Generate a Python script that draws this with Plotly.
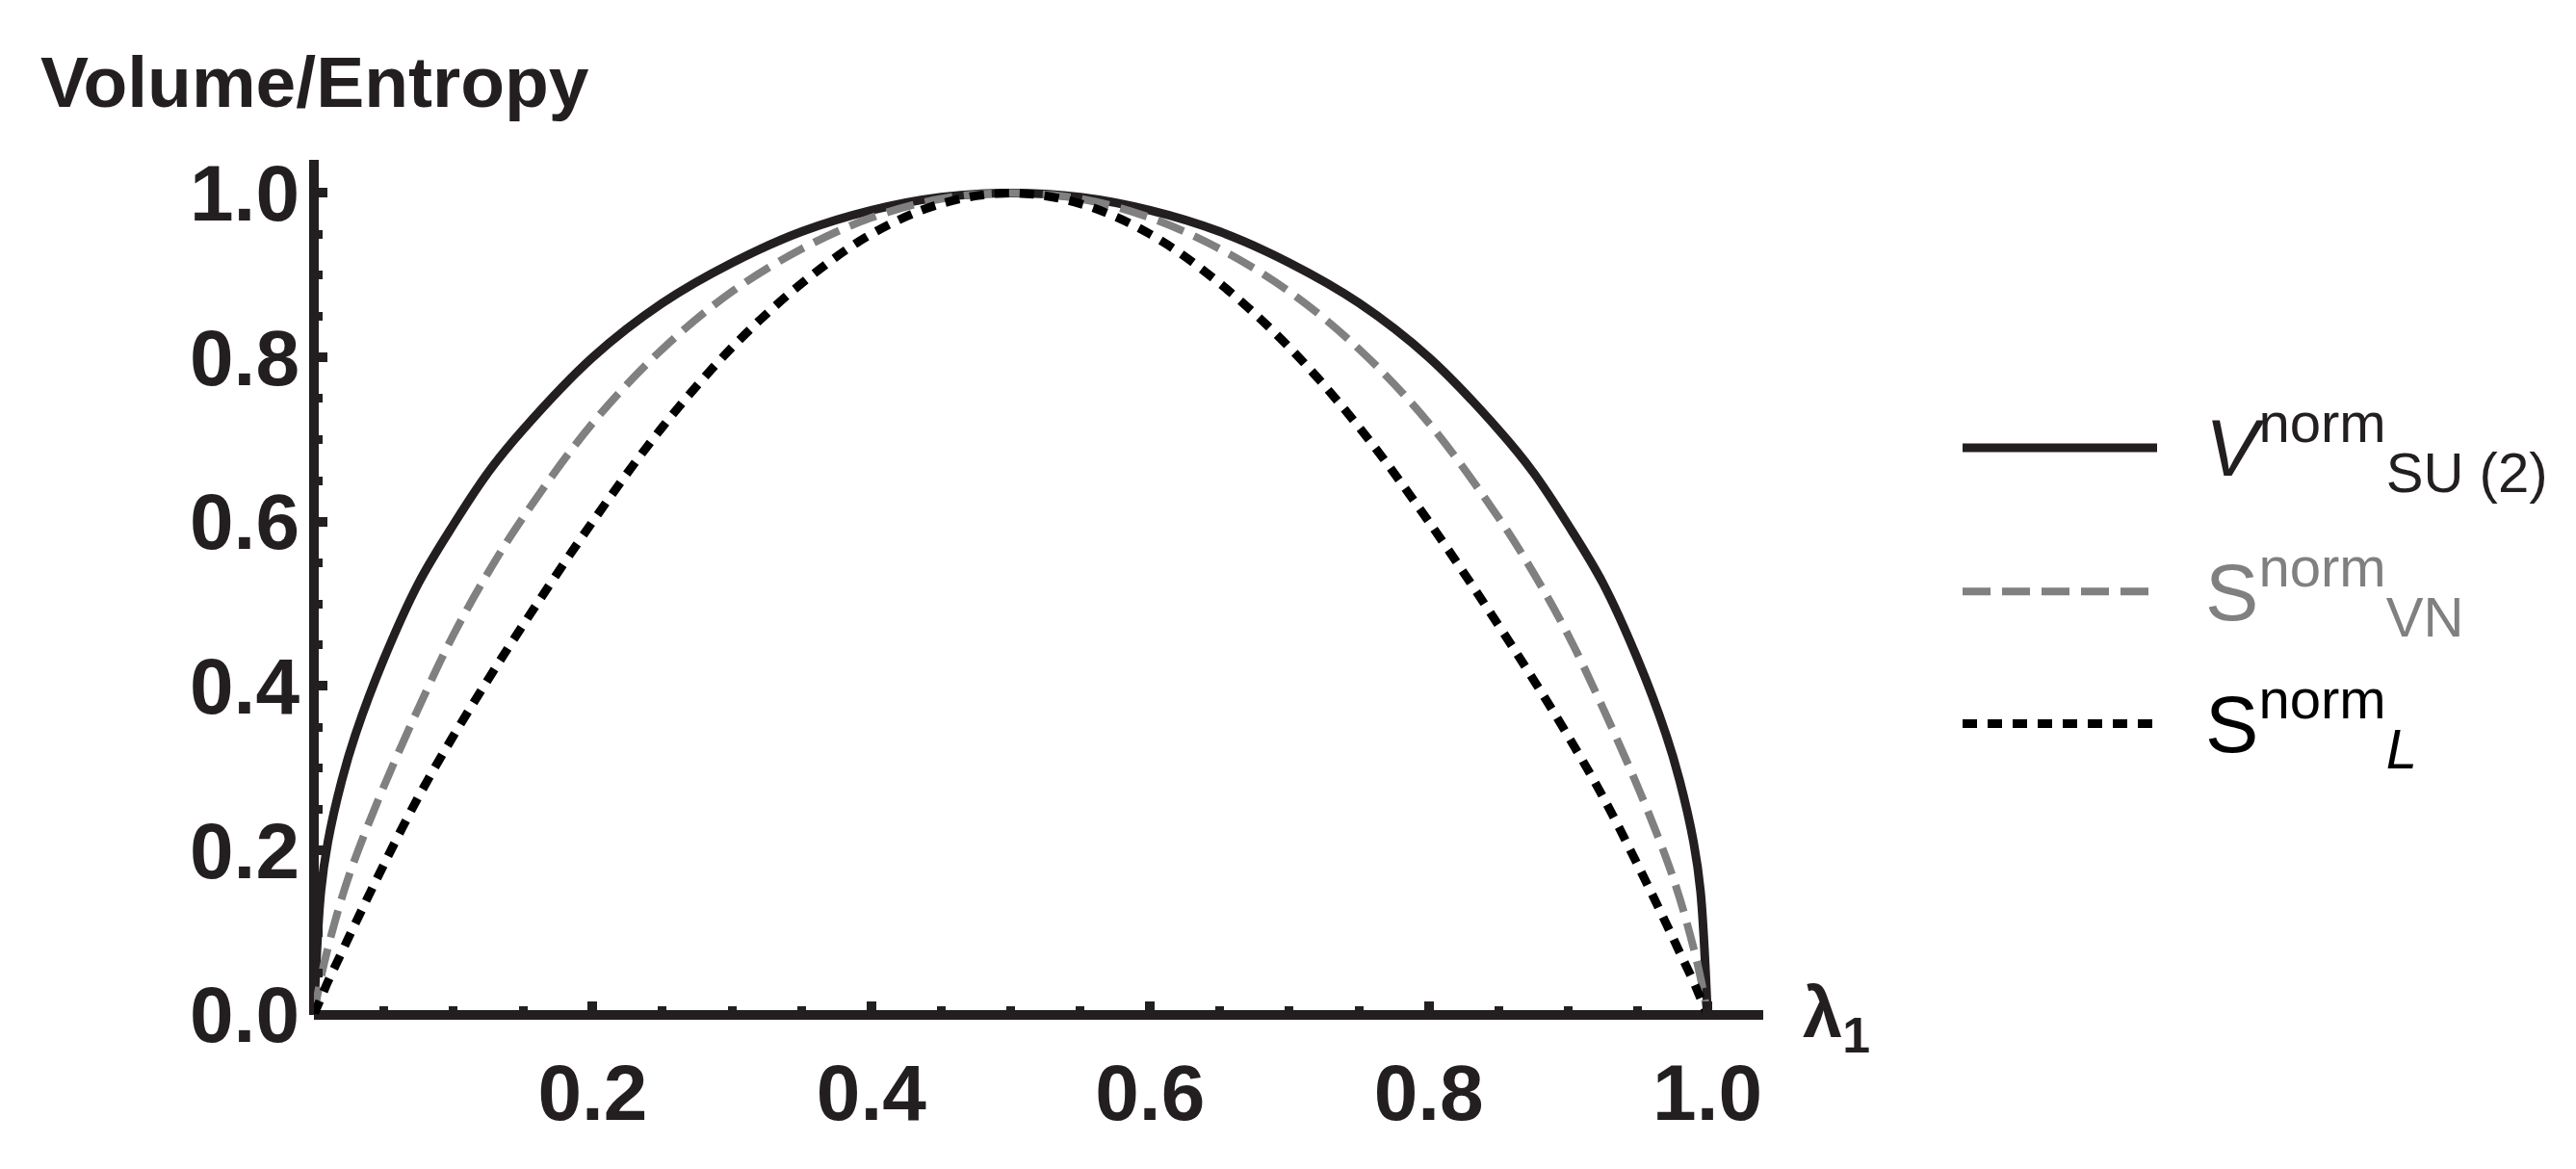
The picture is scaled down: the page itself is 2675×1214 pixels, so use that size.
import plotly.graph_objects as go

# === Datos ===
lam = [0, 0.005, 0.01, 0.02, 0.03, 0.05, 0.075, 0.1, 0.125, 0.15, 0.2, 0.25, 0.3, 0.35, 0.4, 0.45, 0.5,
       0.55, 0.6, 0.65, 0.7, 0.75, 0.8, 0.85, 0.875, 0.9, 0.925, 0.95, 0.97, 0.98, 0.99, 0.995, 1.0]
v_su2 = [0, 0.15, 0.21, 0.285, 0.342, 0.432, 0.525, 0.596, 0.66, 0.712, 0.8, 0.866, 0.915, 0.953, 0.979, 0.995, 1.0,
         0.995, 0.979, 0.953, 0.915, 0.866, 0.8, 0.712, 0.66, 0.596, 0.525, 0.432, 0.342, 0.285, 0.21, 0.15, 0]
s_vn = [0, 0.045, 0.081, 0.142, 0.192, 0.277, 0.373, 0.462, 0.538, 0.605, 0.72, 0.81, 0.88, 0.932, 0.97, 0.993, 1.0,
        0.993, 0.97, 0.932, 0.88, 0.81, 0.72, 0.605, 0.538, 0.462, 0.373, 0.277, 0.192, 0.142, 0.081, 0.045, 0]
s_l = [0, 0.02, 0.04, 0.076, 0.112, 0.182, 0.265, 0.339, 0.408, 0.474, 0.6, 0.715, 0.812, 0.89, 0.95, 0.987, 1.0,
       0.987, 0.95, 0.89, 0.812, 0.715, 0.6, 0.474, 0.408, 0.339, 0.265, 0.182, 0.112, 0.076, 0.04, 0.02, 0]

x_ticks = [0.2, 0.4, 0.6, 0.8, 1.0]
x_ticktext = ["0.2", "0.4", "0.6", "0.8", "1.0"]
y_ticks = [0.0, 0.2, 0.4, 0.6, 0.8, 1.0]
y_ticktext = ["0.0", "0.2", "0.4", "0.6", "0.8", "1.0"]

leyenda_textos = ["<i>V</i><sup>norm</sup><sub>SU (2)</sub>",
                  "S<sup>norm</sup><sub>VN</sub>",
                  "S<sup>norm</sup><sub><i>L</i></sub>"]
leyenda_filas = [0.69, 0.515, 0.354]
leyenda_x = [0, 1]

# === Estilos ===
AX = "#231f20"
GRIS = "#808080"
NEGRO = "#000000"
FONT = "Liberation Sans, Arial, Helvetica, sans-serif"
W, H = 2675, 1214

estilos = [
    dict(color=AX, width=9, dash="solid"),
    dict(color=GRIS, width=8, dash="29px,12px"),
    dict(color=NEGRO, width=9, dash="15px,11px"),
]
colores_texto = [AX, GRIS, NEGRO]

fig = go.Figure()
for serie, est in zip([v_su2, s_vn, s_l], estilos):
    fig.add_trace(go.Scatter(x=lam, y=serie, mode="lines",
                             line=dict(shape="spline", smoothing=1.0, **est),
                             hoverinfo="skip", showlegend=False))

# leyenda manual en ejes auxiliares (las líneas de leyenda son largas)
for fila, est in zip(leyenda_filas, estilos):
    fig.add_trace(go.Scatter(x=leyenda_x, y=[fila, fila], mode="lines", line=est,
                             xaxis="x2", yaxis="y2", hoverinfo="skip", showlegend=False))

for texto, fila, col in zip(leyenda_textos, leyenda_filas, colores_texto):
    fig.add_annotation(text=texto, xref="paper", yref="y2", x=2288 / W, y=fila,
                       xanchor="left", yanchor="middle", showarrow=False,
                       font=dict(family=FONT, size=83, color=col))

fig.add_annotation(text="Volume/Entropy", xref="paper", yref="paper",
                   x=40 / W, y=(H - 78) / H, xanchor="left", yanchor="middle",
                   showarrow=False, font=dict(family=FONT, size=75, color=AX, weight="bold"))
fig.add_annotation(text="λ<sub>1</sub>", xref="paper", yref="paper",
                   x=1870 / W, y=(H - 1098) / H, xanchor="left", yanchor="middle",
                   showarrow=False, font=dict(family=FONT, size=74, color=AX, weight="bold"))

eje_comun = dict(showgrid=False, zeroline=True, zerolinewidth=10, zerolinecolor=AX,
                 showline=False, ticks="inside", ticklen=14, tickwidth=10, tickcolor=AX,
                 tickfont=dict(family=FONT, size=82, color=AX, weight="bold"),
                 tickmode="array")

fig.update_layout(
    width=W, height=H,
    margin=dict(l=0, r=0, t=0, b=0),
    paper_bgcolor="white", plot_bgcolor="white",
    hovermode=False,
    xaxis=dict(domain=[326 / W, 1831 / W], range=[0, 1.04], anchor="y",
               tickvals=x_ticks, ticktext=x_ticktext, ticklabelstandoff=26,
               minor=dict(tickmode="linear", tick0=0, dtick=0.05, ticks="inside",
                          ticklen=9, tickwidth=9, tickcolor=AX),
               **eje_comun),
    yaxis=dict(domain=[120 / H, (H - 163) / H], range=[0, 1.04], anchor="x",
               tickvals=y_ticks, ticktext=y_ticktext, ticklabelstandoff=14,
               minor=dict(tickmode="linear", tick0=0, dtick=0.05, ticks="inside",
                          ticklen=9, tickwidth=9, tickcolor=AX),
               **eje_comun),
    xaxis2=dict(domain=[2038 / W, 2240 / W], range=[0, 1], anchor="y2", visible=False),
    yaxis2=dict(domain=[120 / H, (H - 163) / H], range=[0, 1.04], anchor="x2", visible=False),
)

# la figura ocupa exactamente la ventana, sin márgenes de página
ajuste_pagina = ("var gd=document.getElementById('{plot_id}');"
                 "document.body.style.margin='0';document.body.style.overflow='hidden';"
                 "gd.style.position='absolute';gd.style.left='0px';gd.style.top='0px';"
                 "var w=window.innerWidth,h=window.innerHeight;"
                 "if(w>0&&h>0){gd.style.width=w+'px';gd.style.height=h+'px';"
                 "Plotly.relayout(gd,{width:w,height:h});}")

fig.write_html("out.html", post_script=ajuste_pagina,
               config=dict(displayModeBar=False))
